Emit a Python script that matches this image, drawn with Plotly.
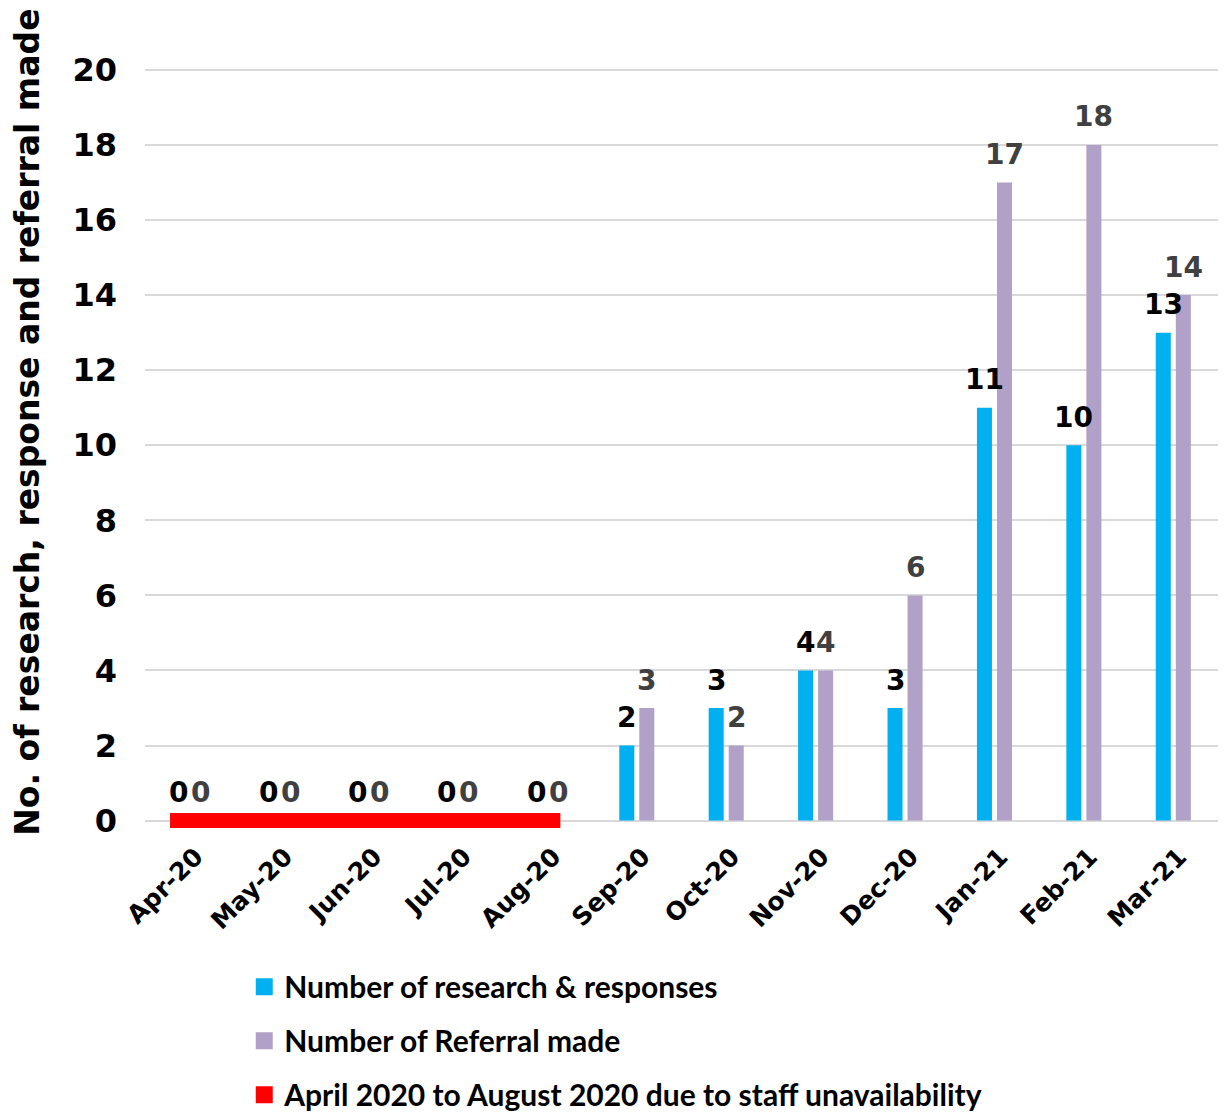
import plotly.graph_objects as go

months = ["Apr-20", "May-20", "Jun-20", "Jul-20", "Aug-20", "Sep-20",
          "Oct-20", "Nov-20", "Dec-20", "Jan-21", "Feb-21", "Mar-21"]
research = [0, 0, 0, 0, 0, 2, 3, 4, 3, 11, 10, 13]
referral = [0, 0, 0, 0, 0, 3, 2, 4, 6, 17, 18, 14]
gap_months = ["Apr-20", "May-20", "Jun-20", "Jul-20", "Aug-20"]
gap_height = [0.267, 0.267, 0.267, 0.267, 0.267]
yticks = [0, 2, 4, 6, 8, 10, 12, 14, 16, 18, 20]
y_title = "No. of research, response and referral made"

BLUE = "#00B0F0"
PURPLE = "#B1A0C7"
RED = "#FF0000"

# thick outline only on the first (hidden, zero-height) bar so the legend swatch is larger
swatch_lw = [5] + [0] * (len(months) - 1)

fig = go.Figure()
fig.add_trace(go.Bar(x=months, y=research, name="Number of research & responses",
                     marker=dict(color=BLUE, line=dict(width=swatch_lw, color=BLUE)),
                     offset=-0.196, width=0.168, legendgroup="a"))
fig.add_trace(go.Bar(x=months, y=referral, name="Number of Referral made",
                     marker=dict(color=PURPLE, line=dict(width=swatch_lw, color=PURPLE)),
                     offset=0.028, width=0.168, legendgroup="b"))
fig.add_trace(go.Bar(x=gap_months, y=gap_height, base=-0.133,
                     name="April 2020 to August 2020 due to staff unavailability",
                     marker=dict(color=RED, line=dict(width=5, color=RED)),
                     offset=[-0.192, -0.5, -0.5, -0.5, -0.5],
                     width=[0.692, 1.0, 1.0, 1.0, 0.617],
                     legendgroup="c"))

ann = []
for m, v in zip(months, research):
    ann.append(dict(x=m, y=v, text=str(v), showarrow=False, xshift=-10 if v else -11,
                    yshift=28, yanchor="middle",
                    font=dict(family="DejaVu Sans", size=28, color="#000000", weight="bold")))
for m, v in zip(months, referral):
    ann.append(dict(x=m, y=v, text=str(v), showarrow=False, xshift=10 if v else 11,
                    yshift=28, yanchor="middle",
                    font=dict(family="DejaVu Sans", size=28, color="#404040", weight="bold")))
ann.append(dict(xref="paper", yref="paper", x=-0.109, y=0.5345, text=y_title,
                textangle=-90, showarrow=False, xanchor="center", yanchor="middle",
                font=dict(family="DejaVu Sans", size=33, color="#000000", weight="bold")))

fig.update_layout(
    width=1230, height=1115,
    margin=dict(l=137, r=20, t=60, b=293, autoexpand=False),
    paper_bgcolor="white", plot_bgcolor="white",
    barmode="overlay",
    showlegend=True,
    annotations=ann,
    legend=dict(orientation="v", x=0.0925, xanchor="left", y=-0.1715, yanchor="top",
                traceorder="grouped", tracegroupgap=12,
                font=dict(family="Lato", size=30, color="#000000", weight="bold"),
                itemwidth=30),
    xaxis=dict(type="category", categoryorder="array", categoryarray=months,
               tickangle=-45, showgrid=False, showline=False, zeroline=False,
               automargin=False, ticklabelstandoff=6, ticklabelshift=6,
               tickfont=dict(family="DejaVu Sans", size=25, color="#000000", weight="bold")),
    yaxis=dict(range=[-0.25, 20.05], tickvals=yticks, showgrid=True, gridcolor="#D9D9D9",
               gridwidth=2, zeroline=True, zerolinecolor="#D9D9D9", zerolinewidth=2,
               showline=False, ticklabelstandoff=27, automargin=False,
               tickfont=dict(family="DejaVu Sans", size=32, color="#000000", weight="bold")),
)

fig.write_html("out.html")
